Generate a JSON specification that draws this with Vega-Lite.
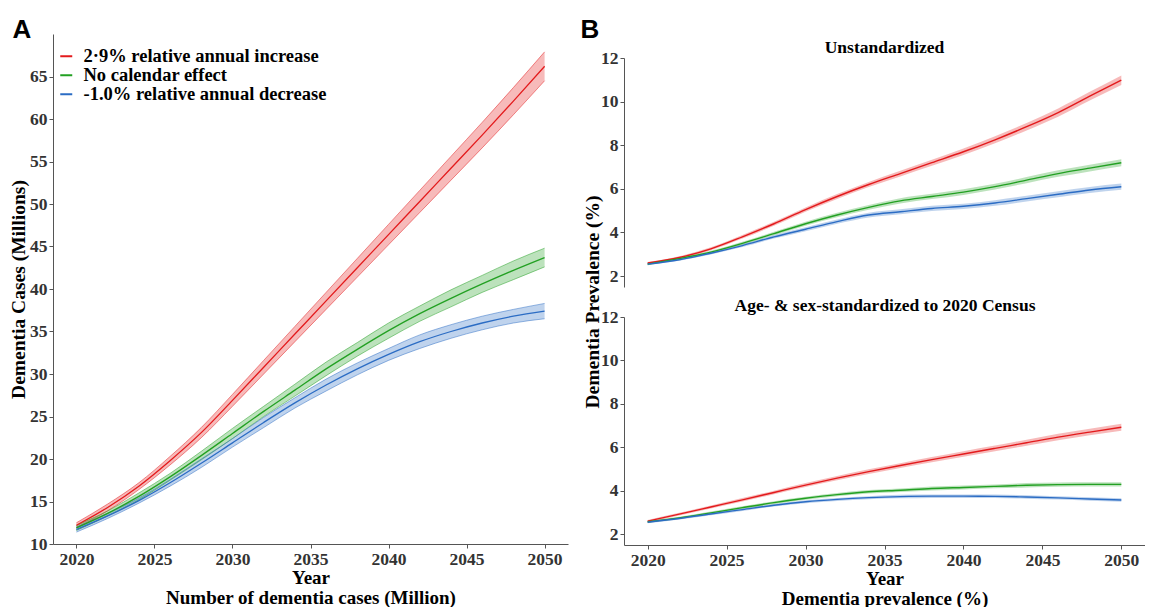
{
  "$schema": "https://vega.github.io/schema/vega-lite/v6.json",
  "padding": {"left": 8, "top": 16, "right": 0, "bottom": 0},
  "background": "white",
  "config": {
    "view": {"stroke": null},
    "axis": {"grid": false, "domainColor": "#555555", "tickColor": "#555555", "tickSize": 4, "labelFont": "Liberation Serif", "labelFontWeight": "bold", "labelFontSize": 17.5, "labelColor": "#333333", "titleFont": "Liberation Serif", "titleFontWeight": "bold", "titleFontSize": 19.5, "titleColor": "#000000", "labelPadding": 2},
    "legend": {"labelFont": "Liberation Serif", "labelFontWeight": "bold", "labelFontSize": 18.5, "labelColor": "#000000", "labelLimit": 0, "symbolType": "stroke", "symbolSize": 144, "symbolStrokeWidth": 2, "symbolOpacity": 1, "rowPadding": -2.5, "padding": 0, "labelOffset": 8}
  },
  "datasets": {
    "a": [
      {"s":"2·9% relative annual increase","year":2020,"v":12.2,"lo":11.9,"hi":12.5},
      {"s":"2·9% relative annual increase","year":2022,"v":14.3,"lo":13.9,"hi":14.7},
      {"s":"2·9% relative annual increase","year":2024,"v":16.8,"lo":16.4,"hi":17.2},
      {"s":"2·9% relative annual increase","year":2026,"v":19.8,"lo":19.3,"hi":20.3},
      {"s":"2·9% relative annual increase","year":2028,"v":23.1,"lo":22.5,"hi":23.7},
      {"s":"2·9% relative annual increase","year":2030,"v":26.9,"lo":26.2,"hi":27.6},
      {"s":"2·9% relative annual increase","year":2032,"v":30.8,"lo":30.0,"hi":31.6},
      {"s":"2·9% relative annual increase","year":2034,"v":34.7,"lo":33.8,"hi":35.6},
      {"s":"2·9% relative annual increase","year":2036,"v":38.6,"lo":37.6,"hi":39.6},
      {"s":"2·9% relative annual increase","year":2038,"v":42.5,"lo":41.4,"hi":43.6},
      {"s":"2·9% relative annual increase","year":2040,"v":46.4,"lo":45.2,"hi":47.6},
      {"s":"2·9% relative annual increase","year":2042,"v":50.3,"lo":49.0,"hi":51.6},
      {"s":"2·9% relative annual increase","year":2044,"v":54.2,"lo":52.8,"hi":55.6},
      {"s":"2·9% relative annual increase","year":2046,"v":58.1,"lo":56.6,"hi":59.6},
      {"s":"2·9% relative annual increase","year":2048,"v":62.1,"lo":60.5,"hi":63.7},
      {"s":"2·9% relative annual increase","year":2050,"v":66.2,"lo":64.5,"hi":67.9},
      {"s":"No calendar effect","year":2020,"v":11.9,"lo":11.6,"hi":12.2},
      {"s":"No calendar effect","year":2022,"v":13.6,"lo":13.3,"hi":13.9},
      {"s":"No calendar effect","year":2024,"v":15.6,"lo":15.2,"hi":16.0},
      {"s":"No calendar effect","year":2026,"v":17.9,"lo":17.5,"hi":18.3},
      {"s":"No calendar effect","year":2028,"v":20.4,"lo":19.9,"hi":20.9},
      {"s":"No calendar effect","year":2030,"v":23.0,"lo":22.4,"hi":23.6},
      {"s":"No calendar effect","year":2032,"v":25.6,"lo":25.0,"hi":26.2},
      {"s":"No calendar effect","year":2034,"v":28.1,"lo":27.4,"hi":28.8},
      {"s":"No calendar effect","year":2036,"v":30.6,"lo":29.8,"hi":31.4},
      {"s":"No calendar effect","year":2038,"v":32.9,"lo":32.1,"hi":33.7},
      {"s":"No calendar effect","year":2040,"v":35.1,"lo":34.2,"hi":36.0},
      {"s":"No calendar effect","year":2042,"v":37.1,"lo":36.2,"hi":38.0},
      {"s":"No calendar effect","year":2044,"v":38.9,"lo":37.9,"hi":39.9},
      {"s":"No calendar effect","year":2046,"v":40.6,"lo":39.6,"hi":41.6},
      {"s":"No calendar effect","year":2048,"v":42.2,"lo":41.1,"hi":43.3},
      {"s":"No calendar effect","year":2050,"v":43.7,"lo":42.6,"hi":44.8},
      {"s":"-1.0% relative annual decrease","year":2020,"v":11.7,"lo":11.4,"hi":12.0},
      {"s":"-1.0% relative annual decrease","year":2022,"v":13.3,"lo":13.0,"hi":13.6},
      {"s":"-1.0% relative annual decrease","year":2024,"v":15.1,"lo":14.8,"hi":15.4},
      {"s":"-1.0% relative annual decrease","year":2026,"v":17.2,"lo":16.8,"hi":17.6},
      {"s":"-1.0% relative annual decrease","year":2028,"v":19.5,"lo":19.0,"hi":20.0},
      {"s":"-1.0% relative annual decrease","year":2030,"v":21.9,"lo":21.4,"hi":22.4},
      {"s":"-1.0% relative annual decrease","year":2032,"v":24.3,"lo":23.7,"hi":24.9},
      {"s":"-1.0% relative annual decrease","year":2034,"v":26.6,"lo":26.0,"hi":27.2},
      {"s":"-1.0% relative annual decrease","year":2036,"v":28.7,"lo":28.0,"hi":29.4},
      {"s":"-1.0% relative annual decrease","year":2038,"v":30.6,"lo":29.9,"hi":31.3},
      {"s":"-1.0% relative annual decrease","year":2040,"v":32.3,"lo":31.6,"hi":33.0},
      {"s":"-1.0% relative annual decrease","year":2042,"v":33.8,"lo":33.0,"hi":34.6},
      {"s":"-1.0% relative annual decrease","year":2044,"v":35.0,"lo":34.2,"hi":35.8},
      {"s":"-1.0% relative annual decrease","year":2046,"v":36.0,"lo":35.2,"hi":36.8},
      {"s":"-1.0% relative annual decrease","year":2048,"v":36.8,"lo":36.0,"hi":37.6},
      {"s":"-1.0% relative annual decrease","year":2050,"v":37.4,"lo":36.5,"hi":38.3}
    ],
    "u": [
      {"s":"2·9% relative annual increase","year":2020,"v":2.6,"lo":2.55,"hi":2.65},
      {"s":"2·9% relative annual increase","year":2022,"v":2.85,"lo":2.79,"hi":2.91},
      {"s":"2·9% relative annual increase","year":2024,"v":3.25,"lo":3.18,"hi":3.32},
      {"s":"2·9% relative annual increase","year":2026,"v":3.8,"lo":3.72,"hi":3.88},
      {"s":"2·9% relative annual increase","year":2028,"v":4.4,"lo":4.31,"hi":4.49},
      {"s":"2·9% relative annual increase","year":2030,"v":5.05,"lo":4.95,"hi":5.15},
      {"s":"2·9% relative annual increase","year":2032,"v":5.65,"lo":5.54,"hi":5.76},
      {"s":"2·9% relative annual increase","year":2034,"v":6.2,"lo":6.08,"hi":6.32},
      {"s":"2·9% relative annual increase","year":2036,"v":6.7,"lo":6.57,"hi":6.83},
      {"s":"2·9% relative annual increase","year":2038,"v":7.2,"lo":7.06,"hi":7.34},
      {"s":"2·9% relative annual increase","year":2040,"v":7.7,"lo":7.55,"hi":7.85},
      {"s":"2·9% relative annual increase","year":2042,"v":8.25,"lo":8.09,"hi":8.41},
      {"s":"2·9% relative annual increase","year":2044,"v":8.85,"lo":8.68,"hi":9.02},
      {"s":"2·9% relative annual increase","year":2046,"v":9.5,"lo":9.31,"hi":9.69},
      {"s":"2·9% relative annual increase","year":2048,"v":10.25,"lo":10.05,"hi":10.45},
      {"s":"2·9% relative annual increase","year":2050,"v":10.98,"lo":10.76,"hi":11.2},
      {"s":"No calendar effect","year":2020,"v":2.55,"lo":2.5,"hi":2.6},
      {"s":"No calendar effect","year":2022,"v":2.8,"lo":2.75,"hi":2.85},
      {"s":"No calendar effect","year":2024,"v":3.1,"lo":3.04,"hi":3.16},
      {"s":"No calendar effect","year":2026,"v":3.5,"lo":3.43,"hi":3.57},
      {"s":"No calendar effect","year":2028,"v":3.95,"lo":3.87,"hi":4.03},
      {"s":"No calendar effect","year":2030,"v":4.4,"lo":4.31,"hi":4.49},
      {"s":"No calendar effect","year":2032,"v":4.8,"lo":4.7,"hi":4.9},
      {"s":"No calendar effect","year":2034,"v":5.15,"lo":5.04,"hi":5.26},
      {"s":"No calendar effect","year":2036,"v":5.45,"lo":5.33,"hi":5.57},
      {"s":"No calendar effect","year":2038,"v":5.65,"lo":5.53,"hi":5.77},
      {"s":"No calendar effect","year":2040,"v":5.85,"lo":5.72,"hi":5.98},
      {"s":"No calendar effect","year":2042,"v":6.1,"lo":5.97,"hi":6.23},
      {"s":"No calendar effect","year":2044,"v":6.4,"lo":6.26,"hi":6.54},
      {"s":"No calendar effect","year":2046,"v":6.7,"lo":6.55,"hi":6.85},
      {"s":"No calendar effect","year":2048,"v":6.95,"lo":6.8,"hi":7.1},
      {"s":"No calendar effect","year":2050,"v":7.2,"lo":7.04,"hi":7.36},
      {"s":"-1.0% relative annual decrease","year":2020,"v":2.55,"lo":2.5,"hi":2.6},
      {"s":"-1.0% relative annual decrease","year":2022,"v":2.75,"lo":2.7,"hi":2.8},
      {"s":"-1.0% relative annual decrease","year":2024,"v":3.05,"lo":2.99,"hi":3.11},
      {"s":"-1.0% relative annual decrease","year":2026,"v":3.4,"lo":3.33,"hi":3.47},
      {"s":"-1.0% relative annual decrease","year":2028,"v":3.8,"lo":3.72,"hi":3.88},
      {"s":"-1.0% relative annual decrease","year":2030,"v":4.15,"lo":4.06,"hi":4.24},
      {"s":"-1.0% relative annual decrease","year":2032,"v":4.5,"lo":4.4,"hi":4.6},
      {"s":"-1.0% relative annual decrease","year":2034,"v":4.8,"lo":4.69,"hi":4.91},
      {"s":"-1.0% relative annual decrease","year":2036,"v":4.95,"lo":4.84,"hi":5.06},
      {"s":"-1.0% relative annual decrease","year":2038,"v":5.1,"lo":4.98,"hi":5.22},
      {"s":"-1.0% relative annual decrease","year":2040,"v":5.2,"lo":5.08,"hi":5.32},
      {"s":"-1.0% relative annual decrease","year":2042,"v":5.35,"lo":5.22,"hi":5.48},
      {"s":"-1.0% relative annual decrease","year":2044,"v":5.55,"lo":5.42,"hi":5.68},
      {"s":"-1.0% relative annual decrease","year":2046,"v":5.75,"lo":5.61,"hi":5.89},
      {"s":"-1.0% relative annual decrease","year":2048,"v":5.95,"lo":5.81,"hi":6.09},
      {"s":"-1.0% relative annual decrease","year":2050,"v":6.1,"lo":5.96,"hi":6.24}
    ],
    "st": [
      {"s":"2·9% relative annual increase","year":2020,"v":2.6,"lo":2.55,"hi":2.65},
      {"s":"2·9% relative annual increase","year":2022,"v":2.92,"lo":2.86,"hi":2.98},
      {"s":"2·9% relative annual increase","year":2024,"v":3.25,"lo":3.18,"hi":3.32},
      {"s":"2·9% relative annual increase","year":2026,"v":3.58,"lo":3.5,"hi":3.66},
      {"s":"2·9% relative annual increase","year":2028,"v":3.92,"lo":3.84,"hi":4.0},
      {"s":"2·9% relative annual increase","year":2030,"v":4.26,"lo":4.17,"hi":4.35},
      {"s":"2·9% relative annual increase","year":2032,"v":4.58,"lo":4.48,"hi":4.68},
      {"s":"2·9% relative annual increase","year":2034,"v":4.88,"lo":4.77,"hi":4.99},
      {"s":"2·9% relative annual increase","year":2036,"v":5.16,"lo":5.05,"hi":5.27},
      {"s":"2·9% relative annual increase","year":2038,"v":5.43,"lo":5.31,"hi":5.55},
      {"s":"2·9% relative annual increase","year":2040,"v":5.69,"lo":5.56,"hi":5.82},
      {"s":"2·9% relative annual increase","year":2042,"v":5.95,"lo":5.82,"hi":6.08},
      {"s":"2·9% relative annual increase","year":2044,"v":6.21,"lo":6.07,"hi":6.35},
      {"s":"2·9% relative annual increase","year":2046,"v":6.47,"lo":6.32,"hi":6.62},
      {"s":"2·9% relative annual increase","year":2048,"v":6.7,"lo":6.55,"hi":6.85},
      {"s":"2·9% relative annual increase","year":2050,"v":6.92,"lo":6.76,"hi":7.08},
      {"s":"No calendar effect","year":2020,"v":2.57,"lo":2.52,"hi":2.62},
      {"s":"No calendar effect","year":2022,"v":2.75,"lo":2.7,"hi":2.8},
      {"s":"No calendar effect","year":2024,"v":2.98,"lo":2.92,"hi":3.04},
      {"s":"No calendar effect","year":2026,"v":3.22,"lo":3.16,"hi":3.28},
      {"s":"No calendar effect","year":2028,"v":3.45,"lo":3.38,"hi":3.52},
      {"s":"No calendar effect","year":2030,"v":3.65,"lo":3.58,"hi":3.72},
      {"s":"No calendar effect","year":2032,"v":3.82,"lo":3.74,"hi":3.9},
      {"s":"No calendar effect","year":2034,"v":3.95,"lo":3.87,"hi":4.03},
      {"s":"No calendar effect","year":2036,"v":4.02,"lo":3.94,"hi":4.1},
      {"s":"No calendar effect","year":2038,"v":4.1,"lo":4.01,"hi":4.19},
      {"s":"No calendar effect","year":2040,"v":4.15,"lo":4.06,"hi":4.24},
      {"s":"No calendar effect","year":2042,"v":4.2,"lo":4.11,"hi":4.29},
      {"s":"No calendar effect","year":2044,"v":4.25,"lo":4.15,"hi":4.35},
      {"s":"No calendar effect","year":2046,"v":4.28,"lo":4.18,"hi":4.38},
      {"s":"No calendar effect","year":2048,"v":4.29,"lo":4.19,"hi":4.39},
      {"s":"No calendar effect","year":2050,"v":4.29,"lo":4.19,"hi":4.39},
      {"s":"-1.0% relative annual decrease","year":2020,"v":2.55,"lo":2.5,"hi":2.6},
      {"s":"-1.0% relative annual decrease","year":2022,"v":2.72,"lo":2.67,"hi":2.77},
      {"s":"-1.0% relative annual decrease","year":2024,"v":2.93,"lo":2.87,"hi":2.99},
      {"s":"-1.0% relative annual decrease","year":2026,"v":3.13,"lo":3.07,"hi":3.19},
      {"s":"-1.0% relative annual decrease","year":2028,"v":3.33,"lo":3.27,"hi":3.39},
      {"s":"-1.0% relative annual decrease","year":2030,"v":3.49,"lo":3.42,"hi":3.56},
      {"s":"-1.0% relative annual decrease","year":2032,"v":3.6,"lo":3.53,"hi":3.67},
      {"s":"-1.0% relative annual decrease","year":2034,"v":3.68,"lo":3.61,"hi":3.75},
      {"s":"-1.0% relative annual decrease","year":2036,"v":3.73,"lo":3.65,"hi":3.81},
      {"s":"-1.0% relative annual decrease","year":2038,"v":3.75,"lo":3.67,"hi":3.83},
      {"s":"-1.0% relative annual decrease","year":2040,"v":3.75,"lo":3.67,"hi":3.83},
      {"s":"-1.0% relative annual decrease","year":2042,"v":3.74,"lo":3.66,"hi":3.82},
      {"s":"-1.0% relative annual decrease","year":2044,"v":3.71,"lo":3.63,"hi":3.79},
      {"s":"-1.0% relative annual decrease","year":2046,"v":3.67,"lo":3.59,"hi":3.75},
      {"s":"-1.0% relative annual decrease","year":2048,"v":3.62,"lo":3.54,"hi":3.7},
      {"s":"-1.0% relative annual decrease","year":2050,"v":3.57,"lo":3.49,"hi":3.65}
    ]
  },
  "bounds": "flush",
  "spacing": 56,
  "hconcat": [
    {
      "width": 515,
      "height": 510,
      "data": {"name": "a"},
      "resolve": {"axis": {"x": "independent"}},
      "encoding": {
        "color": {"field": "s", "type": "nominal",
                  "scale": {"domain": ["2·9% relative annual increase", "No calendar effect", "-1.0% relative annual decrease"], "range": ["#E31A1C", "#22A022", "#2B6CC4"]},
                  "legend": {"title": null, "orient": "none", "legendX": 4, "legendY": 13}}
      },
      "layer": [
        {"mark": {"type": "area", "opacity": 0.3, "interpolate": "monotone"},
         "encoding": {
           "x": {"field": "year", "type": "quantitative", "scale": {"domain": [2018.5, 2051.5], "nice": false, "zero": false},
                 "axis": {"values": [2020, 2025, 2030, 2035, 2040, 2045, 2050], "format": "d", "title": ["Year", "Number of dementia cases (Million)"], "titleFontSize": 19, "titleLineHeight": 19.5, "titlePadding": 1}},
           "y": {"field": "lo", "type": "quantitative", "scale": {"domain": [10, 70], "nice": false, "zero": false},
                 "axis": {"values": [10, 15, 20, 25, 30, 35, 40, 45, 50, 55, 60, 65], "title": "Dementia Cases (Millions)", "titleX": -35, "titleY": 255, "titleBaseline": "middle", "titleAlign": "center", "titleAngle": -90}},
           "y2": {"field": "hi"}}},
        {"mark": {"type": "line", "strokeWidth": 0.7, "opacity": 0.7, "interpolate": "monotone"},
         "encoding": {"x": {"field": "year", "type": "quantitative", "axis": null}, "y": {"field": "lo", "type": "quantitative"}}},
        {"mark": {"type": "line", "strokeWidth": 0.7, "opacity": 0.7, "interpolate": "monotone"},
         "encoding": {"x": {"field": "year", "type": "quantitative", "axis": null}, "y": {"field": "hi", "type": "quantitative"}}},
        {"mark": {"type": "line", "strokeWidth": 1.3, "interpolate": "monotone"},
         "encoding": {"x": {"field": "year", "type": "quantitative",
                            "axis": {"orient": "top", "domain": false, "ticks": false, "labels": false, "title": "A", "titleFont": "Liberation Sans", "titleFontSize": 26, "titleFontWeight": "bold", "titleX": -41, "titleY": 3, "titleAlign": "left", "titleBaseline": "alphabetic", "titleAngle": 0}},
                      "y": {"field": "v", "type": "quantitative"}}}
      ]
    },
    {
      "bounds": "flush",
      "spacing": 30,
      "vconcat": [
        {
          "width": 521,
          "height": 253,
          "data": {"name": "u"},
          "encoding": {
            "x": {"field": "year", "type": "quantitative", "scale": {"domain": [2018.5, 2051.5], "nice": false, "zero": false},
                  "axis": {"orient": "top", "domain": false, "ticks": false, "labels": false, "title": "Unstandardized", "titleFontSize": 17.5, "titleX": 260, "titleY": 13, "titleAlign": "center", "titleBaseline": "middle"}},
            "color": {"field": "s", "type": "nominal", "legend": null}
          },
          "layer": [
            {"mark": {"type": "area", "opacity": 0.3, "interpolate": "monotone"},
             "encoding": {"y": {"field": "lo", "type": "quantitative", "scale": {"domain": [1.5, 12], "range": [253, 24], "nice": false, "zero": false},
                                "axis": {"values": [2, 4, 6, 8, 10, 12], "title": "B", "titleFont": "Liberation Sans", "titleFontSize": 26, "titleFontWeight": "bold", "titleX": -44, "titleY": 3, "titleAlign": "left", "titleBaseline": "alphabetic", "titleAngle": 0}},
                          "y2": {"field": "hi"}}},
            {"mark": {"type": "line", "strokeWidth": 1.4, "interpolate": "monotone"}, "encoding": {"y": {"field": "v", "type": "quantitative"}}}
          ]
        },
        {
          "width": 521,
          "height": 228,
          "data": {"name": "st"},
          "resolve": {"axis": {"x": "independent"}},
          "encoding": {
            "color": {"field": "s", "type": "nominal", "legend": null}
          },
          "layer": [
            {"mark": {"type": "area", "opacity": 0.3, "interpolate": "monotone"},
             "encoding": {
               "x": {"field": "year", "type": "quantitative", "scale": {"domain": [2018.5, 2051.5], "nice": false, "zero": false},
                     "axis": {"values": [2020, 2025, 2030, 2035, 2040, 2045, 2050], "format": "d", "title": ["Year", "Dementia prevalence (%)"], "titleFontSize": 19, "titleLineHeight": 19.5, "titlePadding": 1}},
               "y": {"field": "lo", "type": "quantitative", "scale": {"domain": [1.5, 12], "nice": false, "zero": false},
                     "axis": {"values": [2, 4, 6, 8, 10, 12], "title": "Dementia Prevalence (%)", "titleX": -32, "titleY": -15.5, "titleBaseline": "middle", "titleAlign": "center", "titleAngle": -90}},
               "y2": {"field": "hi"}}},
            {"mark": {"type": "line", "strokeWidth": 1.4, "interpolate": "monotone"},
             "encoding": {"x": {"field": "year", "type": "quantitative",
                                "axis": {"orient": "top", "domain": false, "ticks": false, "labels": false, "title": "Age- & sex-standardized to 2020 Census", "titleFontSize": 17.5, "titleX": 260.5, "titleY": -12, "titleAlign": "center", "titleBaseline": "middle"}},
                          "y": {"field": "v", "type": "quantitative"}}}
          ]
        }
      ]
    }
  ]
}
